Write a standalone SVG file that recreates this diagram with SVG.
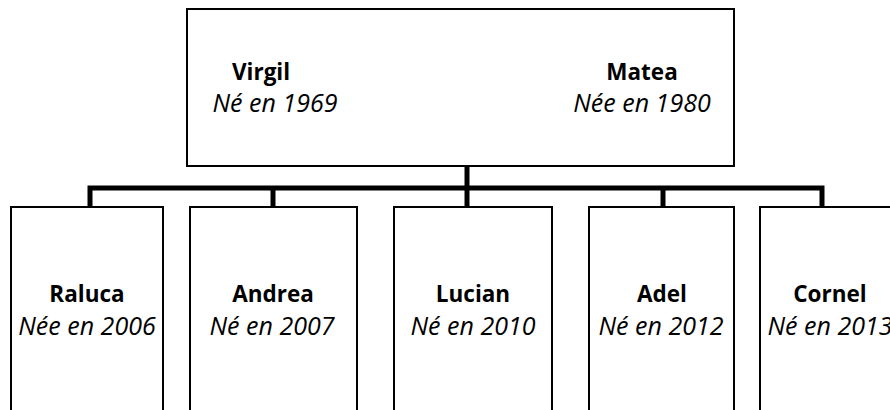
<svg xmlns="http://www.w3.org/2000/svg" width="890" height="410" viewBox="0 0 890 410">
  <style>
    .box { fill: #ffffff; stroke: #000000; stroke-width: 2; }
    .conn { fill: none; stroke: #000000; stroke-width: 5; stroke-linejoin: miter; stroke-linecap: butt; }
    .name { font-family: "Open Sans", "Liberation Sans", sans-serif; font-weight: bold; font-size: 22.5px; fill: #000000; text-anchor: middle; }
    .date { font-family: "Open Sans", "Liberation Sans", sans-serif; font-style: italic; font-size: 25px; fill: #000000; text-anchor: middle; }
  </style>
  <rect width="890" height="410" fill="#ffffff"/>
  <g id="connectors">
    <path class="conn" d="M90,206 V188 H822 V207"/>
    <path class="conn" d="M273,188 V206"/>
    <path class="conn" d="M467,166 V206"/>
    <path class="conn" d="M663,188 V206"/>
  </g>
  <g id="parents">
    <rect class="box" x="187" y="9" width="547" height="157"/>
    <text class="name" x="261" y="80">Virgil</text>
    <text class="date" x="275" y="112">Né en 1969</text>
    <text class="name" x="642" y="80">Matea</text>
    <text class="date" x="642" y="112">Née en 1980</text>
  </g>
  <g id="raluca">
    <rect class="box" x="11" y="207" width="152" height="230"/>
    <text class="name" x="87" y="302">Raluca</text>
    <text class="date" x="87" y="335">Née en 2006</text>
  </g>
  <g id="andrea">
    <rect class="box" x="190" y="207" width="167" height="230"/>
    <text class="name" x="273" y="302">Andrea</text>
    <text class="date" x="272" y="335">Né en 2007</text>
  </g>
  <g id="lucian">
    <rect class="box" x="394" y="207" width="158" height="230"/>
    <text class="name" x="473" y="302">Lucian</text>
    <text class="date" x="473" y="335">Né en 2010</text>
  </g>
  <g id="adel">
    <rect class="box" x="589" y="207" width="145" height="230"/>
    <text class="name" x="662" y="302">Adel</text>
    <text class="date" x="661" y="335">Né en 2012</text>
  </g>
  <g id="cornel">
    <rect class="box" x="760" y="207" width="160" height="230"/>
    <text class="name" x="830" y="302">Cornel</text>
    <text class="date" x="830" y="335">Né en 2013</text>
  </g>
</svg>
